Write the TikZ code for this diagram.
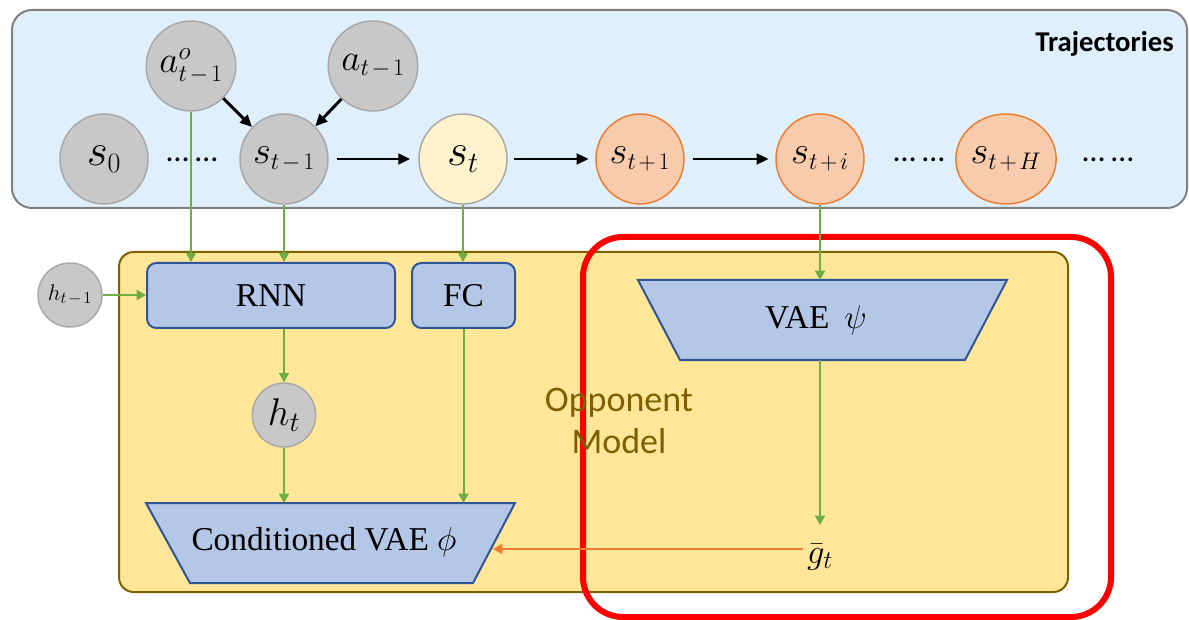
\RequirePackage{fix-cm}
\documentclass[tikz,border=0pt]{standalone}
\usepackage{fontspec}
\newfontfamily\calibri{Carlito}
\newfontfamily\serifbox{Liberation Serif}
\usetikzlibrary{shapes.geometric,arrows.meta,calc}
\definecolor{trajfill}{HTML}{DFF0FC}
\definecolor{trajdraw}{HTML}{808080}
\definecolor{oppfill}{HTML}{FFE699}
\definecolor{oppdraw}{HTML}{7F6000}
\definecolor{blufill}{HTML}{B4C7E7}
\definecolor{bludraw}{HTML}{2F5597}
\definecolor{grnline}{HTML}{70AD47}
\definecolor{orgline}{HTML}{ED7D31}
\definecolor{orgfill}{HTML}{F8CBAD}
\definecolor{ylwfill}{HTML}{FFF2CC}
\definecolor{grayfill}{HTML}{C8C8C8}
\definecolor{graydraw}{HTML}{A8A8A8}
\definecolor{redline}{HTML}{FF0000}
\newcommand\tm{t\mkern2mu{-}\mkern2mu1}
\newcommand\tp[1]{t\mkern2mu{+}\mkern2mu#1}
\newcommand\mlab[4]{\fontsize{#1}{#1}\selectfont$#3_{\hbox{\fontsize{#2}{#2}\selectfont$#4$}}$}
\tikzset{
  circbase/.style={ellipse, inner sep=0pt, line width=1.1pt, minimum width=66pt, minimum height=67.5pt},
  grayc/.style={circbase, draw=graydraw, fill=grayfill},
  ylwc/.style={circbase, draw=graydraw, fill=ylwfill},
  orgc/.style={circbase, draw=orgline, fill=orgfill},
  blubox/.style={draw=bludraw, fill=blufill, line width=1.5pt, rounded corners=7pt, inner sep=0pt, minimum height=48.75pt, font=\serifbox\fontsize{25}{25}\selectfont},
  blkarrow/.style={line width=2.2pt, -{Triangle[length=9pt,width=8pt]}},
  grnarrow/.style={draw=grnline, line width=1.5pt, -{Triangle[length=7pt,width=7.5pt]}, grnline},
  orgarrow/.style={draw=orgline, line width=1.8pt, -{Triangle[length=7pt,width=7.5pt]}, orgline},
  dotsnode/.style={inner sep=0pt, font=\calibri\fontsize{24}{24}\selectfont},
}
\begin{document}
\begin{tikzpicture}[x=0.75pt,y=-0.75pt]
\useasboundingbox (0,0) rectangle (1189,620);
% backgrounds
\draw[fill=trajfill, draw=trajdraw, line width=1.5pt, rounded corners=15pt] (12,10) rectangle (1187,208);
\node[anchor=east, inner sep=0pt] (trajlbl) at (1174,44) {\calibri\bfseries\fontsize{21.5}{21.5}\selectfont Trajectories};
\draw[fill=oppfill, draw=oppdraw, line width=1.5pt, rounded corners=11pt] (119,252) rectangle (1068,592);
\draw[draw=redline, line width=4.5pt, rounded corners=30pt] (583,237) rectangle (1111,617);
\node[align=center, text=oppdraw, inner sep=0pt, font={\calibri\fontsize{27}{32}\selectfont}] (opplbl) at (619,421) {Opponent\\Model};

% trajectory nodes
\node[grayc] (ao) at (191,66) {\fontsize{28}{28}\selectfont$a^{\hbox{\fontsize{19}{19}\selectfont$o$}}_{\hbox{\fontsize{18}{18}\selectfont$\tm$}}$};
\node[grayc] (a) at (373,66) {\mlab{28}{18}{a}{\tm}};
\node[grayc] (s0) at (104,159) {\mlab{34}{21}{s}{0}};
\node[dotsnode] (dots1) at (192,160) {…\hspace{5pt}…};
\node[grayc] (stm1) at (284,159) {\mlab{29}{18}{s}{\tm}};
\node[ylwc] (st) at (463,159) {\mlab{34}{22}{s}{t}};
\node[orgc] (stp1) at (640,159) {\mlab{29}{18}{s}{\tp{1}}};
\node[orgc] (sti) at (820,159) {\mlab{29}{18}{s}{\tp{i}}};
\node[dotsnode] (dots2) at (919,160) {…\hspace{5pt}…};
\node[orgc] (stH) at (1006,159) {\mlab{29}{18}{s}{\tp{H}}};
\node[dotsnode] (dots3) at (1108,160) {…\hspace{5pt}…};

% opponent model nodes
\node[grayc, minimum width=48pt, minimum height=48pt] (htm1) at (70,295) {\mlab{17}{12.5}{h}{\tm}};
\node[blubox, minimum width=186pt] (rnn) at (271,295.5) {RNN};
\node[blubox, minimum width=77.25pt] (fc) at (463.5,295.5) {FC};
\node[grayc, minimum width=47.5pt, minimum height=48pt] (ht) at (284,415) {\mlab{29}{21}{h}{t}};

% trapezoids
\draw[draw=bludraw, fill=blufill, line width=1.5pt] (146,503) -- (515,503) -- (473,583) -- (190,583) -- cycle;
\node[inner sep=0pt, font=\serifbox\fontsize{25}{25}\selectfont] (cvae) at (324,542) {Conditioned VAE $\phi$};
\coordinate (cvaetop) at (330,503);
\coordinate (cvaeR) at (493,549);
\draw[draw=bludraw, fill=blufill, line width=1.5pt] (638,280) -- (1007,280) -- (965,360) -- (680,360) -- cycle;
\node[inner sep=0pt, font=\serifbox\fontsize{25}{25}\selectfont] (vae) at (816,320) {VAE\hspace{0.45em}$\psi$};
\coordinate (vaetop) at (820,280);
\coordinate (vaebot) at (820,360);
\node[inner sep=0pt] (gt) at (820,557) {\mlab{26}{19}{\bar{g}}{t}};
\coordinate (gline) at (0,549);

% black arrows
\draw[blkarrow] (ao) -- (stm1);
\draw[blkarrow] (a) -- (stm1);
\draw[blkarrow, shorten <=6pt, shorten >=6pt] (stm1) -- (st);
\draw[blkarrow, shorten <=5pt, shorten >=5pt] (st) -- (stp1);
\draw[blkarrow, shorten <=6pt, shorten >=5pt] (stp1) -- (sti);

% green arrows
\draw[grnarrow] (ao.south) -- (ao.south |- rnn.north);
\draw[grnarrow] (stm1.south) -- (stm1.south |- rnn.north);
\draw[grnarrow] (st.south) -- (st.south |- fc.north);
\draw[grnarrow] (htm1.east) -- (htm1.east -| rnn.west);
\draw[grnarrow] (rnn.south -| ht) -- (ht.north);
\draw[grnarrow] (ht.south) -- (ht.south |- cvaetop);
\draw[grnarrow] (fc.south) -- (fc.south |- cvaetop);
\draw[grnarrow] (sti.south) -- (vaetop);
\draw[grnarrow] (vaebot) -- (vaebot |- 0,525);

% orange arrow
\draw[orgarrow] ($(gt.west |- gline)+(-4,0)$) -- (cvaeR |- gline);
\end{tikzpicture}
\end{document}
